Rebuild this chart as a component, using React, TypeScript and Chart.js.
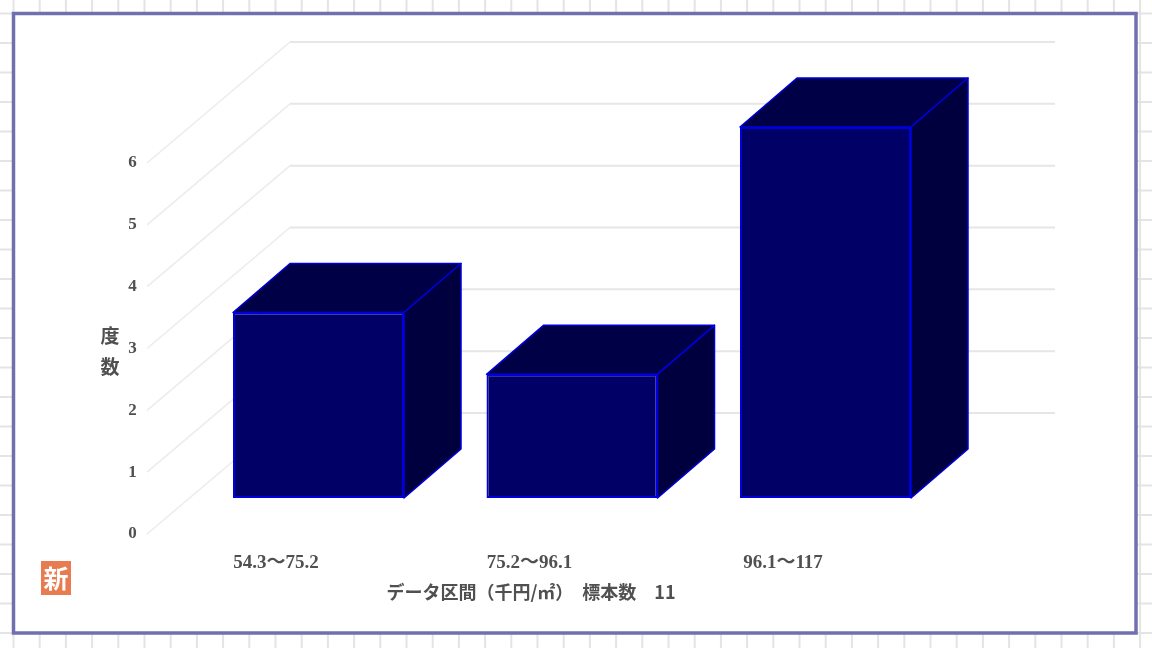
import React, { useEffect, useRef } from "react";
import { Chart, registerables } from "chart.js";

Chart.register(...registerables);

const categories = ["54.3～75.2", "75.2～96.1", "96.1～117"];
const frequencies = [3, 2, 6];
const xTitle = "データ区間（千円/㎡）　標本数　11";
const yTitleChars = ["度", "数"];
const stampText = "新";

const FONT = '"Liberation Serif", "Noto Sans CJK JP", serif';
const CJK = '"Noto Sans CJK JP", sans-serif';
const TEXT = "#505050";

const wallDx = 143;
const wallDy = -121;
const wallRight = 1055;
const barLift = -36;
const depthDx = 57;
const depthDy = -49;

const scene = {
  id: "scene",
  beforeDraw(chart: any) {
    const c = chart.ctx;
    c.save();
    c.fillStyle = "#fff";
    c.fillRect(0, 0, 1152, 648);
    c.strokeStyle = "#e4e4e4";
    c.lineWidth = 2;
    for (let x = 13.5; x < 1152; x += 26.2) {
      c.beginPath(); c.moveTo(x, 0); c.lineTo(x, 648); c.stroke();
    }
    for (let y = 13.5; y < 648; y += 29.5) {
      c.beginPath(); c.moveTo(0, y); c.lineTo(1152, y); c.stroke();
    }
    c.fillStyle = "#fff";
    c.fillRect(13, 13, 1123, 620);
    c.strokeStyle = "#7070b0";
    c.lineWidth = 3.5;
    c.strokeRect(13.5, 13.5, 1122.5, 619.5);
    // stamp
    c.fillStyle = "#e87c50";
    c.fillRect(41, 561, 30, 34);
    c.fillStyle = "#fff";
    c.font = `bold 25px ${CJK}`;
    c.textAlign = "center";
    c.textBaseline = "middle";
    c.fillText(stampText, 56, 578);
    // titles
    c.fillStyle = TEXT;
    c.font = `bold 19px ${CJK}`;
    c.fillText(yTitleChars[0], 110, 336);
    c.fillText(yTitleChars[1], 110, 367);
    c.font = `bold 18px ${CJK}`;
    c.fillText(xTitle, 531, 592);
    c.restore();
  },
  beforeDatasetsDraw(chart: any) {
    const c = chart.ctx;
    const y = chart.scales.y;
    c.save();
    y.ticks.forEach((t: any) => {
      const py = y.getPixelForValue(t.value);
      const x0 = 147;
      c.strokeStyle = "#ececec";
      c.lineWidth = 1.5;
      c.beginPath();
      c.moveTo(x0, py);
      c.lineTo(x0 + wallDx, py + wallDy);
      c.stroke();
      c.strokeStyle = "#e6e6e6";
      c.lineWidth = 2;
      c.beginPath();
      c.moveTo(x0 + wallDx, py + wallDy);
      c.lineTo(wallRight, py + wallDy);
      c.stroke();
    });
    c.restore();
    c.save();
    c.translate(0, barLift);
    chart.getDatasetMeta(0).data.forEach((el: any) => {
      const { x, y: top, base, width } = el.getProps(["x", "y", "base", "width"], true);
      const l = x - width / 2;
      const r = x + width / 2;
      c.strokeStyle = "#0000dd";
      c.lineWidth = 1.5;
      c.lineJoin = "round";
      c.fillStyle = "#000046";
      c.beginPath();
      c.moveTo(l, top);
      c.lineTo(l + depthDx, top + depthDy);
      c.lineTo(r + depthDx, top + depthDy);
      c.lineTo(r, top);
      c.closePath();
      c.fill();
      c.stroke();
      c.fillStyle = "#00003e";
      c.beginPath();
      c.moveTo(r, top);
      c.lineTo(r + depthDx, top + depthDy);
      c.lineTo(r + depthDx, base + depthDy);
      c.lineTo(r, base);
      c.closePath();
      c.fill();
      c.stroke();
    });
  },
  afterDatasetsDraw(chart: any) {
    chart.ctx.restore();
  },
};

export default function App() {
  const ref = useRef<HTMLCanvasElement>(null);
  useEffect(() => {
    const chart = new Chart(ref.current as HTMLCanvasElement, {
      type: "bar",
      data: {
        labels: categories,
        datasets: [
          {
            data: frequencies,
            backgroundColor: "#000066",
            borderColor: "#0000dd",
            borderWidth: 2,
            borderSkipped: false,
            barPercentage: 0.6746,
            categoryPercentage: 1,
            clip: false,
          } as any,
        ],
      },
      plugins: [scene],
      options: {
        responsive: false,
        animation: false,
        events: [],
        layout: { padding: { top: 163, right: 199.75, left: 0, bottom: 0 } },
        plugins: { legend: { display: false }, tooltip: { enabled: false }, title: { display: false } },
        scales: {
          x: {
            grid: { display: false },
            border: { display: false },
            afterFit: (s: any) => { s.height = 114; },
            ticks: {
              maxRotation: 0,
              autoSkip: false,
              padding: 10,
              labelOffset: -42.5,
              color: TEXT,
              font: { family: FONT, size: 19, weight: "bold" },
            },
          },
          y: {
            min: 0,
            max: 6,
            grid: { display: false },
            border: { display: false },
            afterFit: (s: any) => { s.width = 191.75; },
            ticks: {
              stepSize: 1,
              padding: 47,
              color: TEXT,
              font: { family: FONT, size: 17, weight: "bold" },
            },
          },
        },
      } as any,
    });
    return () => chart.destroy();
  }, []);
  return (
    <div style={{ position: "fixed", left: 0, top: 0, width: 1152, height: 648 }}>
      <canvas ref={ref} width={1152} height={648} style={{ display: "block", filter: "blur(0.6px)" }} />
    </div>
  );
}
